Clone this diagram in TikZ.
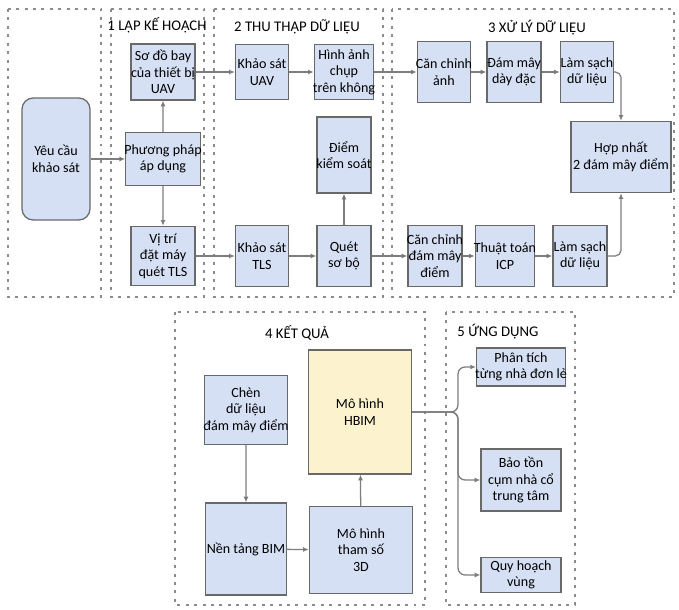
\documentclass[tikz,border=0pt]{standalone}
\usepackage{fontspec}
\setmainfont{Carlito}
\usepackage{xcolor}
\usetikzlibrary{arrows.meta}

\definecolor{boxfill}{RGB}{214,224,244}
\definecolor{boxline}{RGB}{105,105,105}
\definecolor{hbimfill}{RGB}{252,242,206}
\definecolor{wirecol}{RGB}{125,125,125}
\definecolor{dotcol}{RGB}{140,140,140}

\begin{document}
\begin{tikzpicture}[x=0.025cm, y=-0.025cm, font=\fontsize{10}{11.8}\selectfont,
    box/.style={draw=boxline, line width=0.9pt, fill=boxfill, align=center, inner xsep=-1pt, inner ysep=1pt},
    frame/.style={draw=dotcol, line width=2.1pt, dash pattern=on 2.1pt off 3.9pt},
    wire/.style={draw=wirecol, line width=0.9pt, -{Latex[length=4pt,width=3.5pt]}},
    title/.style={font=\fontsize{10.5}{12}\selectfont}]
    \useasboundingbox (0,0) rectangle (679,610);

    % dotted frames
    \draw[frame] (8,9) rectangle (101,297);
    \draw[frame] (111,9) rectangle (204,297);
    \draw[frame] (214,9) rectangle (383,297);
    \draw[frame] (392,9) rectangle (674,297);
    \draw[frame] (175,312) rectangle (425,605);
    \draw[frame] (446,312) rectangle (575,605);

    \node[title] (t1) at (157,25) {1 LẬP KẾ HOẠCH};
    \node[title] (t2) at (297,27) {2 THU THẬP DỮ LIỆU};
    \node[title] (t3) at (537,28) {3 XỬ LÝ DỮ LIỆU};
    \node[title] (t4) at (297,333) {4 KẾT QUẢ};
    \node[title] (t5) at (498,332) {5 ỨNG DỤNG};

    % planning
    \node[box, rounded corners=8pt, minimum width=1.7cm, minimum height=3.05cm] (req) at (56,159) {Yêu cầu\\khảo sát};
    \node[box, minimum width=1.6cm, minimum height=1.4cm] (flight) at (163,72) {Sơ đồ bay\\của thiết bị\\UAV};
    \node[box, minimum width=1.6cm, minimum height=1.33cm] (method) at (163,159) {Phương pháp\\áp dụng};
    \node[box, minimum width=1.6cm, minimum height=1.48cm] (tlspos) at (163,256) {Vị trí\\đặt máy\\quét TLS};

    % data collection
    \node[box, minimum width=1.33cm, minimum height=1.38cm] (uav) at (262,72) {Khảo sát\\UAV};
    \node[box, minimum width=1.35cm, minimum height=1.38cm] (aerial) at (344,72) {Hình ảnh\\chụp\\trên không};
    \node[box, minimum width=1.35cm, minimum height=1.9cm] (gcp) at (344,155) {Điểm\\kiểm soát};
    \node[box, minimum width=1.33cm, minimum height=1.53cm] (tls) at (262,256) {Khảo sát\\TLS};
    \node[box, minimum width=1.35cm, minimum height=1.53cm] (prescan) at (344,256) {Quét\\sơ bộ};

    % processing
    \node[box, minimum width=1.33cm, minimum height=1.53cm] (align) at (444,72) {Căn chỉnh\\ảnh};
    \node[box, minimum width=1.35cm, minimum height=1.53cm] (dense) at (514,72) {Đám mây\\dày đặc};
    \node[box, minimum width=1.33cm, minimum height=1.53cm] (clean1) at (587,72) {Làm sạch\\dữ liệu};
    \node[box, minimum width=2.5cm, minimum height=1.78cm] (merge) at (621,157) {Hợp nhất\\2 đám mây điểm};
    \node[box, minimum width=1.35cm, minimum height=1.53cm] (reg) at (435,256) {Căn chỉnh\\đám mây\\điểm};
    \node[box, minimum width=1.35cm, minimum height=1.53cm] (icp) at (505,256) {Thuật toán\\ICP};
    \node[box, minimum width=1.35cm, minimum height=1.53cm] (clean2) at (580,256) {Làm sạch\\dữ liệu};

    % results
    \node[box, minimum width=2.03cm, minimum height=1.73cm] (insert) at (246,410) {Chèn\\dữ liệu\\đám mây điểm};
    \node[box, fill=hbimfill, minimum width=2.58cm, minimum height=3.1cm] (hbim) at (360,412) {Mô hình\\HBIM};
    \node[box, minimum width=2.03cm, minimum height=2.3cm] (bim) at (246,549) {Nền tảng BIM};
    \node[box, minimum width=2.58cm, minimum height=2.18cm] (param) at (361,550) {Mô hình\\tham số\\3D};

    % applications
    \node[box, minimum width=2.05cm, minimum height=0.95cm] (app1) at (521,367) {Phân tích\\từng nhà đơn lẻ};
    \node[box, minimum width=2cm, minimum height=1.55cm] (app2) at (521,480) {Bảo tồn\\cụm nhà cổ\\trung tâm};
    \node[box, minimum width=2cm, minimum height=0.88cm] (app3) at (521,575) {Quy hoạch\\vùng};

    \path[wire]
    (req) edge (method)
    (method) edge (flight)
             edge (tlspos)
    (flight) edge (uav)
    (uav) edge (aerial)
    (aerial) edge (align)
    (align) edge (dense)
    (dense) edge (clean1)
    (tlspos) edge (tls)
    (tls) edge (prescan)
    (prescan) edge (gcp)
              edge (reg)
    (reg) edge (icp)
    (icp) edge (clean2)
    (insert) edge (bim)
    (bim) edge (param)
    (param) edge (hbim);

    \draw[wire, rounded corners=4pt] (clean1.east) -| (merge.north);
    \draw[wire, rounded corners=4pt] (clean2.east) -| (merge.south);

    \coordinate (fork) at (458,412);
    \draw[wire, rounded corners=5pt] (hbim.east) -- (fork) |- (app1.west);
    \draw[wire, rounded corners=5pt] (hbim.east) -- (fork) |- (app2.west);
    \draw[wire, rounded corners=5pt] (hbim.east) -- (fork) |- (app3.west);
\end{tikzpicture}
\end{document}
